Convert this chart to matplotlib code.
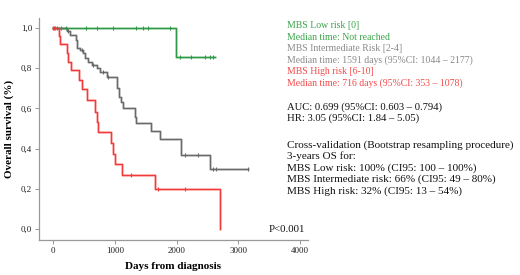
import matplotlib
matplotlib.use("Agg")
import matplotlib.pyplot as plt
import numpy as np

# ---- data ----
low_times = [0, 1985, 2620]
low_surv = [1.0, 0.857, 0.857]
low_censor = [60, 125, 205, 530, 710, 970, 1340, 1450, 1535, 1890, 2060, 2240, 2460, 2540, 2600]

int_times = [0, 217, 270, 368, 390, 433, 476, 514, 568, 622, 703, 757, 865, 1027, 1070,
             1092, 1135, 1324, 1351, 1594, 1729, 2081, 2545, 3160]
int_surv = [1.0, 0.985, 0.966, 0.94, 0.90, 0.89, 0.875, 0.85, 0.833, 0.816, 0.80, 0.783,
            0.755, 0.70, 0.658, 0.633, 0.60, 0.558, 0.525, 0.486, 0.45, 0.367, 0.30, 0.30]
int_censor = [243, 460, 648, 810, 887, 2135, 2350, 2593, 2648, 3160]

high_times = [0, 97, 110, 217, 243, 287, 416, 460, 551, 676, 713, 730, 935, 973, 1000,
              1108, 1648, 2700]
high_surv = [1.0, 0.96, 0.92, 0.875, 0.833, 0.79, 0.74, 0.695, 0.64, 0.583, 0.533, 0.48,
             0.43, 0.375, 0.325, 0.27, 0.20, 0.0]
high_censor = [5, 20, 35, 1260, 1692, 2134]

xticks = [0, 1000, 2000, 3000, 4000]
yticks = [0.0, 0.2, 0.4, 0.6, 0.8, 1.0]
ytick_labels = ["0,0", "0,2", "0,4", "0,6", "0,8", "1,0"]

GREEN = "#2e9a45"
GRAY = "#6a6a6a"
RED = "#f23a3a"
GREEN_T = "#3aa34a"
GRAY_T = "#8a8a8a"
RED_T = "#f24a4a"

legend_lines = [
    ("MBS Low risk [0]", GREEN_T),
    ("Median time: Not reached", GREEN_T),
    ("MBS Intermediate Risk [2-4]", GRAY_T),
    ("Median time: 1591 days (95%CI: 1044 \u2013 2177)", GRAY_T),
    ("MBS High risk [6-10]", RED_T),
    ("Median time: 716 days (95%CI: 353 \u2013 1078)", RED_T),
]
stat_lines = ["AUC: 0.699 (95%CI: 0.603 \u2013 0.794)", "HR: 3.05 (95%CI: 1.84 \u2013 5.05)"]
cv_lines = [
    "Cross-validation (Bootstrap resampling procedure)",
    "3-years OS for:",
    "MBS Low risk: 100% (CI95: 100 \u2013 100%)",
    "MBS Intermediate risk: 66% (CI95: 49 \u2013 80%)",
    "MBS High risk: 32% (CI95: 13 \u2013 54%)",
]
p_text = "P<0.001"

plt.rcParams['font.family'] = ['Liberation Serif', 'DejaVu Serif']

fig = plt.figure(figsize=(5.2, 2.75), dpi=100)
ax = fig.add_axes([0.075, 0.127, 0.517, 0.808])


def step_val(times, surv, t):
    idx = np.searchsorted(times, t, side='right') - 1
    return np.asarray(surv)[idx]


for times, surv, cens, col in [(low_times, low_surv, low_censor, GREEN),
                               (int_times, int_surv, int_censor, GRAY),
                               (high_times, high_surv, high_censor, RED)]:
    ax.step(times, surv, where='post', color=col, lw=1.8, alpha=0.3, zorder=2)
    ax.step(times, surv, where='post', color=col, lw=1.0, zorder=3)
    cy = step_val(np.array(times), surv, np.array(cens))
    ax.plot(cens, cy, linestyle='none', marker='|', ms=3.5, mew=0.8, color=col, zorder=4)

ax.set_xlim(-230, 4130)
ax.set_ylim(-0.055, 1.05)
ax.set_xticks(xticks)
ax.set_xticklabels([str(v) for v in xticks])
ax.set_yticks(yticks)
ax.set_yticklabels(ytick_labels)
ax.tick_params(axis='both', labelsize=6.5, length=3, width=0.6, color="#888888", pad=2,
               labelcolor="#222222")
for s in ['top', 'right']:
    ax.spines[s].set_visible(False)
for s in ['left', 'bottom']:
    ax.spines[s].set_color("#999999")
    ax.spines[s].set_linewidth(0.9)

ax.set_ylabel("Overall survival (%)", fontsize=8, fontweight='bold', labelpad=5)
ax.set_xlabel("Days from diagnosis", fontsize=8, fontweight='bold', labelpad=5)

ax.text(3496, 0.0, p_text, fontsize=7.8, va='center', ha='left', color="#111111")

x0 = 287 / 520
y = 1 - 26 / 275
for txt, c in legend_lines:
    fig.text(x0, y, txt, fontsize=7.05, color=c, va='center', ha='left')
    y -= 11.35 / 275
y = 1 - 106.7 / 275
for txt in stat_lines:
    fig.text(x0, y, txt, fontsize=7.7, color="#111111", va='center', ha='left')
    y -= 11.6 / 275
y = 1 - 145 / 275
for txt in cv_lines:
    fig.text(x0, y, txt, fontsize=8.05, color="#111111", va='center', ha='left')
    y -= 11.5 / 275

fig.savefig("out.png", dpi=100)
